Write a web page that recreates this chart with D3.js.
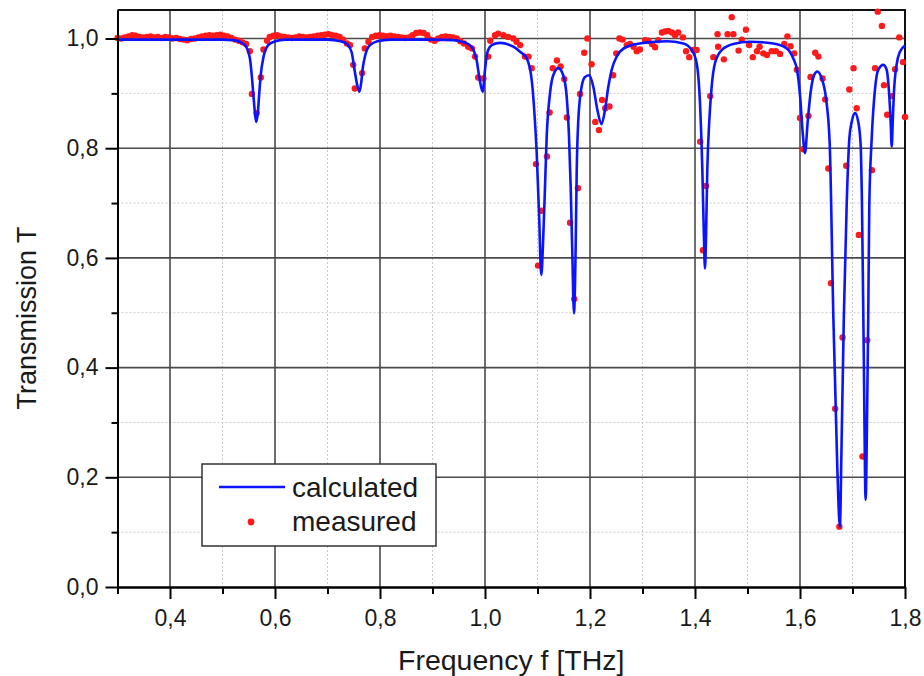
<!DOCTYPE html>
<html>
<head>
<meta charset="utf-8">
<script src="https://cdn.jsdelivr.net/npm/d3@7"></script>
<style>
	body { margin: 0; background: #fff; }
	svg { font-family: "Liberation Sans", Arial, sans-serif; }
	.axis .domain, .axis line { stroke: #000; stroke-width: 2; }
	.grid-major line { stroke: #4a4a4a; stroke-width: 1.6; }
	.grid-minor line { stroke: #c8c8c8; stroke-width: 1; stroke-dasharray: 2,2; }
</style>
</head>
<body>
<svg id="chart" width="924" height="676"></svg>
<script>
// calculated transmission (frequency THz, T)
var calculated = [
	[0.300,0.998],[0.400,0.998],[0.500,0.998],[0.520,0.997],[0.535,0.993],[0.545,0.985],[0.552,0.965],
	[0.556,0.930],[0.559,0.895],[0.562,0.862],[0.5644,0.848],[0.567,0.862],[0.570,0.900],[0.573,0.935],
	[0.578,0.966],[0.587,0.988],[0.600,0.995],[0.620,0.998],[0.700,0.998],[0.725,0.995],[0.738,0.989],
	[0.746,0.975],[0.752,0.940],[0.756,0.918],[0.7606,0.903],[0.764,0.918],[0.767,0.945],[0.772,0.970],
	[0.780,0.987],[0.795,0.995],[0.820,0.998],[0.900,0.998],[0.940,0.997],[0.952,0.995],[0.968,0.990],
	[0.978,0.979],[0.984,0.961],[0.990,0.924],[0.9956,0.903],[1.000,0.943],[1.004,0.973],[1.0128,0.988],
	[1.0286,0.992],[1.054,0.985],[1.0667,0.976],[1.0794,0.964],[1.089,0.924],[1.0933,0.876],[1.0985,0.791],
	[1.1034,0.669],[1.106,0.584],[1.1073,0.569],[1.111,0.639],[1.1143,0.730],[1.1175,0.821],[1.1238,0.900],
	[1.130,0.933],[1.1397,0.946],[1.149,0.933],[1.1556,0.894],[1.160,0.821],[1.1632,0.730],[1.1663,0.608],
	[1.1695,0.499],[1.1727,0.620],[1.1747,0.760],[1.1777,0.851],[1.184,0.912],[1.1905,0.930],[1.1987,0.933],
	[1.2063,0.912],[1.214,0.870],[1.222,0.844],[1.2286,0.870],[1.2349,0.912],[1.2413,0.943],[1.2508,0.967],
	[1.270,0.985],[1.3016,0.992],[1.346,0.995],[1.3778,0.991],[1.3937,0.979],[1.4032,0.955],[1.4095,0.882],
	[1.414,0.760],[1.417,0.639],[1.419,0.581],[1.421,0.639],[1.4234,0.760],[1.4273,0.851],[1.4317,0.912],
	[1.438,0.955],[1.4508,0.979],[1.473,0.990],[1.5048,0.994],[1.549,0.991],[1.5746,0.982],[1.587,0.964],
	[1.5949,0.940],[1.600,0.897],[1.605,0.830],[1.6095,0.791],[1.6146,0.848],[1.6204,0.903],[1.6267,0.933],
	[1.633,0.940],[1.6413,0.927],[1.6495,0.891],[1.6565,0.810],[1.6635,0.493],[1.671,0.219],[1.676,0.110],
	[1.679,0.250],[1.6835,0.493],[1.689,0.700],[1.694,0.818],[1.6985,0.848],[1.7048,0.864],[1.711,0.848],
	[1.7155,0.806],[1.718,0.700],[1.7215,0.420],[1.725,0.159],[1.728,0.330],[1.730,0.493],[1.732,0.696],
	[1.7366,0.818],[1.743,0.909],[1.749,0.943],[1.7587,0.952],[1.765,0.943],[1.7695,0.903],[1.7727,0.848],
	[1.7747,0.803],[1.7766,0.848],[1.779,0.903],[1.784,0.952],[1.7905,0.976],[1.800,0.987]
];

// measured transmission (frequency THz, T)
var measured = [
	[0.300,1.001],[0.307,1.000],[0.314,1.002],[0.321,1.004],[0.328,1.006],[0.335,1.005],[0.342,1.003],
	[0.349,1.002],[0.356,1.003],[0.363,1.004],[0.370,1.002],[0.377,1.003],[0.384,1.001],[0.391,1.003],
	[0.398,1.002],[0.405,1.000],[0.412,1.001],[0.419,0.999],[0.426,0.998],[0.433,0.997],[0.440,0.999],
	[0.447,1.000],[0.454,1.002],[0.461,1.004],[0.468,1.005],[0.475,1.006],[0.482,1.005],[0.489,1.006],
	[0.496,1.007],[0.503,1.005],[0.510,1.004],[0.517,1.001],[0.524,0.998],[0.531,0.996],[0.538,0.993],
	[0.545,0.990],[0.552,0.977],[0.556,0.899],[0.565,0.864],[0.573,0.929],[0.578,0.980],[0.585,0.996],
	[0.590,1.003],[0.597,1.005],[0.604,1.006],[0.611,1.004],[0.618,1.003],[0.625,1.002],[0.632,1.001],
	[0.639,1.002],[0.646,1.004],[0.653,1.003],[0.660,1.002],[0.667,1.003],[0.674,1.004],[0.681,1.005],
	[0.688,1.006],[0.695,1.007],[0.702,1.008],[0.709,1.006],[0.716,1.005],[0.723,1.003],[0.730,0.998],
	[0.737,0.991],[0.743,0.988],[0.749,0.952],[0.752,0.909],[0.766,0.937],[0.771,0.982],[0.778,0.994],
	[0.785,1.003],[0.792,1.005],[0.799,1.006],[0.806,1.005],[0.813,1.004],[0.820,1.005],[0.827,1.004],
	[0.834,1.003],[0.841,1.002],[0.848,1.001],[0.855,1.002],[0.862,1.006],[0.869,1.010],[0.876,1.011],
	[0.883,1.010],[0.890,1.006],[0.897,0.998],[0.904,0.996],[0.911,1.000],[0.918,1.003],[0.925,1.004],
	[0.932,1.003],[0.939,1.002],[0.946,1.000],[0.953,0.995],[0.960,0.991],[0.968,0.985],[0.975,0.982],
	[0.981,0.967],[0.987,0.929],[0.997,0.927],[1.006,0.967],[1.010,0.996],[1.019,1.006],[1.025,1.009],
	[1.035,1.006],[1.044,1.003],[1.054,1.000],[1.060,0.994],[1.067,0.988],[1.076,0.967],[1.083,0.967],
	[1.089,0.946],[1.097,0.771],[1.101,0.586],[1.108,0.686],[1.118,0.785],[1.123,0.865],[1.129,0.946],
	[1.137,0.960],[1.144,0.949],[1.151,0.926],[1.156,0.856],[1.162,0.664],[1.170,0.525],[1.177,0.727],
	[1.181,0.899],[1.189,0.974],[1.195,1.000],[1.203,0.953],[1.210,0.848],[1.217,0.833],[1.223,0.888],
	[1.229,0.873],[1.237,0.876],[1.244,0.933],[1.250,0.973],[1.256,1.000],[1.262,0.998],[1.270,0.988],
	[1.276,0.990],[1.283,0.985],[1.289,0.977],[1.295,0.980],[1.305,0.997],[1.311,0.996],[1.318,0.990],
	[1.324,0.984],[1.330,0.997],[1.337,1.011],[1.343,1.013],[1.349,1.014],[1.356,1.011],[1.362,1.006],
	[1.368,1.011],[1.377,1.002],[1.383,0.977],[1.389,0.966],[1.397,0.979],[1.403,0.979],[1.410,0.812],
	[1.415,0.614],[1.421,0.731],[1.429,0.895],[1.435,0.966],[1.443,1.008],[1.444,0.985],[1.455,0.962],
	[1.462,1.008],[1.470,1.039],[1.473,1.008],[1.483,0.978],[1.489,0.998],[1.497,1.016],[1.503,0.988],
	[1.510,0.966],[1.518,0.977],[1.523,0.985],[1.530,0.973],[1.537,0.970],[1.546,0.977],[1.554,0.977],
	[1.562,0.972],[1.570,0.990],[1.576,1.004],[1.582,0.986],[1.589,0.973],[1.594,0.943],[1.600,0.855],
	[1.606,0.798],[1.616,0.859],[1.620,0.930],[1.629,0.974],[1.635,0.967],[1.643,0.927],[1.648,0.889],
	[1.654,0.763],[1.659,0.554],[1.667,0.325],[1.675,0.110],[1.681,0.455],[1.688,0.768],[1.694,0.907],
	[1.702,0.946],[1.708,0.873],[1.712,0.642],[1.719,0.238],[1.728,0.450],[1.737,0.760],[1.743,0.946],
	[1.748,1.049],[1.756,1.023],[1.760,0.915],[1.766,0.861],[1.775,0.895],[1.781,0.944],[1.789,1.002],
	[1.796,0.957],[1.800,0.857]
];

var xMajor = [0.4, 0.6, 0.8, 1.0, 1.2, 1.4, 1.6, 1.8];
var xMinor = [0.3, 0.5, 0.7, 0.9, 1.1, 1.3, 1.5, 1.7];
var yMajor = [0.0, 0.2, 0.4, 0.6, 0.8, 1.0];
var yMinor = [0.1, 0.3, 0.5, 0.7, 0.9];
var seriesNames = ["calculated", "measured"];

(function draw() {
	var chart = d3.select("#chart");
	var pLeft = 117.5, pRight = 905, pTop = 10, pBottom = 587;
	var x = d3.scaleLinear().domain([0.3, 1.8]).range([pLeft, pRight]);
	var y = d3.scaleLinear().domain([0, 1.052]).range([pBottom, pTop]);
	var fmt = function(d) { return d.toFixed(1).replace(".", ","); };

	// minor grid first (dotted), then the solid major grid
	var minor = chart.append("g").attr("class", "grid-minor");
	minor.selectAll("line.v").data(xMinor.filter(function(d) { return d > 0.3; })).enter().append("line").attr("class", "v")
		.attr("x1", x).attr("x2", x).attr("y1", pTop).attr("y2", pBottom);
	minor.selectAll("line.h").data(yMinor).enter().append("line").attr("class", "h")
		.attr("x1", pLeft).attr("x2", pRight).attr("y1", y).attr("y2", y);
	var major = chart.append("g").attr("class", "grid-major");
	major.selectAll("line.v").data(xMajor.filter(function(d) { return d < 1.8; })).enter().append("line").attr("class", "v")
		.attr("x1", x).attr("x2", x).attr("y1", pTop).attr("y2", pBottom);
	major.selectAll("line.h").data(yMajor.filter(function(d) { return d > 0; })).enter().append("line").attr("class", "h")
		.attr("x1", pLeft).attr("x2", pRight).attr("y1", y).attr("y2", y);

	// frame on top and right side
	chart.append("path").attr("d", "M" + pLeft + "," + pTop + "H" + pRight + "V" + pBottom)
		.attr("fill", "none").attr("stroke", "#111").attr("stroke-width", 2);

	// measured points under the fitted line
	chart.append("g").selectAll("circle").data(measured).enter().append("circle")
		.attr("cx", function(d) { return x(d[0]); }).attr("cy", function(d) { return y(d[1]); })
		.attr("r", 3.2).attr("fill", "#ff1a1a");

	var line = d3.line().x(function(d) { return x(d[0]); }).y(function(d) { return y(d[1]); }).curve(d3.curveMonotoneX);
	chart.append("path").datum(calculated).attr("d", line)
		.attr("fill", "none").attr("stroke", "#0a14ff").attr("stroke-width", 2.6).attr("stroke-linejoin", "round");

	// axes: major ticks with labels, minor ticks without
	chart.append("g").attr("class", "axis").attr("transform", "translate(0," + pBottom + ")")
		.call(d3.axisBottom(x).tickValues(xMinor).tickSize(7).tickSizeOuter(0).tickFormat(""));
	chart.append("g").attr("class", "axis").attr("transform", "translate(0," + pBottom + ")")
		.call(d3.axisBottom(x).tickValues(xMajor).tickSize(12).tickSizeOuter(0).tickPadding(11).tickFormat(fmt));
	chart.append("g").attr("class", "axis").attr("transform", "translate(" + pLeft + ",0)")
		.call(d3.axisLeft(y).tickValues(yMinor).tickSize(6).tickSizeOuter(0).tickFormat(""));
	chart.append("g").attr("class", "axis").attr("transform", "translate(" + pLeft + ",0)")
		.call(d3.axisLeft(y).tickValues(yMajor).tickSize(12).tickSizeOuter(0).tickPadding(7).tickFormat(fmt));
	chart.selectAll(".axis").attr("font-family", null).attr("font-size", null);
	chart.selectAll(".axis text").attr("font-size", 23).attr("fill", "#1a1a1a");

	// axis titles
	chart.append("text").attr("x", (pLeft + pRight) / 2).attr("y", 670).attr("text-anchor", "middle")
		.attr("font-size", 28.5).attr("fill", "#1a1a1a").text("Frequency f [THz]");
	chart.append("text").attr("transform", "translate(36,318) rotate(-90)").attr("text-anchor", "middle")
		.attr("font-size", 27).attr("fill", "#1a1a1a").text("Transmission T");

	// legend
	var legend = chart.append("g");
	legend.append("rect").attr("x", 202).attr("y", 464).attr("width", 234).attr("height", 82)
		.attr("fill", "#fff").attr("stroke", "#333").attr("stroke-width", 1.5);
	legend.append("line").attr("x1", 219).attr("x2", 285).attr("y1", 487).attr("y2", 487)
		.attr("stroke", "#0a14ff").attr("stroke-width", 2.6);
	legend.append("circle").attr("cx", 251).attr("cy", 522).attr("r", 3.4).attr("fill", "#ff1a1a");
	legend.selectAll("text").data(seriesNames).enter().append("text")
		.attr("x", 292).attr("y", function(d, i) { return 497 + i * 34; })
		.attr("font-size", 28).attr("fill", "#1a1a1a").text(function(d) { return d; });
})();
</script>
</body>
</html>
